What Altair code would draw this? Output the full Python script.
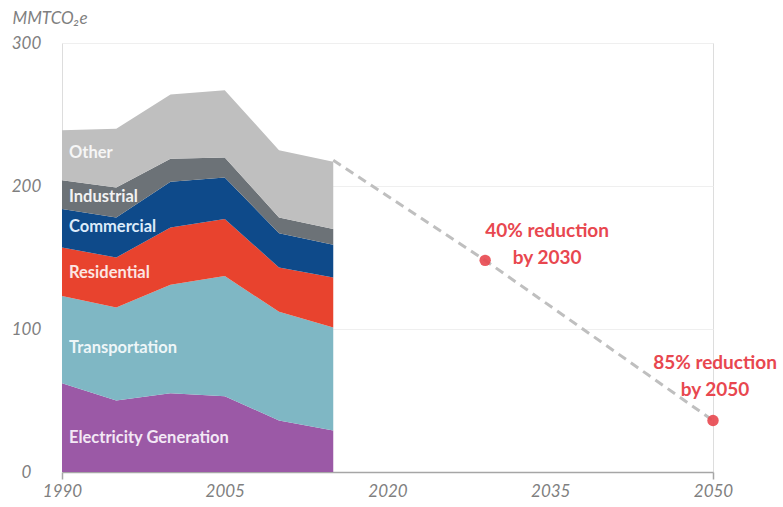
import altair as alt
import pandas as pd

# ---- data ----
years = [1990, 1995, 2000, 2005, 2010, 2015]
sectors = ["Electricity Generation", "Transportation", "Residential",
           "Commercial", "Industrial", "Other"]
electricity = [62, 50, 55, 53, 36, 29]
transportation = [61, 65, 76, 84, 76, 72]
residential = [34, 35, 40, 40, 31, 35]
commercial = [27, 28, 32, 29, 24, 23]
industrial = [20, 21, 16, 14, 11, 11]
other = [35, 41, 45, 47, 47, 47]
sector_colors = ["#9B59A6", "#7FB7C4", "#E8432E", "#0E4A8A", "#6C7277", "#BFBFBF"]

label_values = [24, 87, 139, 171, 192, 223]
label_colors = ["#F3E8F5", "#EEF6F8", "#FCE6E2", "#DCEBFA", "#F2F2F2", "#F6F6F6"]

path_years = [2015, 2029, 2050]
path_values = [218, 148, 36]
target_years = [2029, 2050]
target_values = [148, 36]
target_texts = ["40% reduction\nby 2030", "85% reduction\nby 2050"]

x_ticks = [1990, 2005, 2020, 2035, 2050]
y_ticks = [0, 100, 200, 300]

# ---- tables ----
series = [electricity, transportation, residential, commercial, industrial, other]
rows = []
for i, (name, vals) in enumerate(zip(sectors, series)):
    for y, v in zip(years, vals):
        rows.append({"year": y, "value": v, "sector": name, "order": i})
area_df = pd.DataFrame(rows)

labels_df = pd.DataFrame({"year": [1990] * 6, "value": label_values,
                          "sector": sectors, "tcolor": label_colors})
path_df = pd.DataFrame({"year": path_years, "value": path_values})
target_df = pd.DataFrame({"year": target_years, "value": target_values,
                          "text": target_texts, "idx": [0, 1]})

FONT = "Lato"
GRAY = "#7F7F7F"
RED = "#E8474F"

x_scale = alt.Scale(domain=[1990, 2050], nice=False, zero=False)
y_scale = alt.Scale(domain=[0, 300], nice=False)

x_axis = alt.Axis(values=x_ticks, format="d", title=None, grid=False,
                  domainColor="#A6A6A6", domainWidth=1.5,
                  tickColor=alt.expr("datum.value == 1990 || datum.value == 2050 ? '#A6A6A6' : 'transparent'"),
                  tickSize=7, tickWidth=1.5,
                  labelFont=FONT, labelFontStyle="italic", labelFontSize=17,
                  labelColor=GRAY, labelPadding=4, labelFlush=False)
y_axis = alt.Axis(values=y_ticks, title="MMTCO₂e", domain=False, ticks=False,
                  grid=True, gridColor="#EFEFEF", gridWidth=1.2,
                  labelFont=FONT, labelFontStyle="italic", labelFontSize=17,
                  labelColor=GRAY, labelAlign="center", labelPadding=36,
                  titleFont=FONT, titleFontStyle="italic", titleFontWeight="normal",
                  titleFontSize=17, titleColor=GRAY, titleAngle=0,
                  titleAlign="left", titleBaseline="middle", titleX=-50, titleY=-25)

areas = alt.Chart(area_df).mark_area(opacity=1, strokeWidth=0).encode(
    x=alt.X("year:Q", scale=x_scale, axis=x_axis),
    y=alt.Y("value:Q", stack="zero", scale=y_scale, axis=y_axis),
    color=alt.Color("sector:N", scale=alt.Scale(domain=sectors, range=sector_colors), legend=None),
    order=alt.Order("order:Q"),
)

labels = alt.Chart(labels_df).mark_text(
    align="left", baseline="middle", dx=7, font=FONT, fontWeight="bold", fontSize=16.5
).encode(
    x=alt.X("year:Q", scale=x_scale),
    y=alt.Y("value:Q", scale=y_scale),
    text="sector:N",
    color=alt.Color("tcolor:N", scale=None),
)

path = alt.Chart(path_df).mark_line(
    color="#BFBFBF", strokeWidth=3, strokeDash=[9, 6]
).encode(
    x=alt.X("year:Q", scale=x_scale),
    y=alt.Y("value:Q", scale=y_scale),
)

points = alt.Chart(target_df).mark_point(
    filled=True, color=RED, size=130, opacity=0.9
).encode(
    x=alt.X("year:Q", scale=x_scale),
    y=alt.Y("value:Q", scale=y_scale),
)

text_base = alt.Chart(target_df).encode(
    x=alt.X("year:Q", scale=x_scale),
    y=alt.Y("value:Q", scale=y_scale),
    text="text:N",
)
t1 = text_base.transform_filter("datum.idx == 0").mark_text(
    align="center", baseline="middle", lineBreak="\n", lineHeight=27,
    dx=62, dy=-29, font=FONT, fontWeight="bold", fontSize=19, color=RED)
t2 = text_base.transform_filter("datum.idx == 1").mark_text(
    align="center", baseline="middle", lineBreak="\n", lineHeight=27,
    dx=2, dy=-58, font=FONT, fontWeight="bold", fontSize=19, color=RED)

chart = alt.layer(areas, labels, path, points, t1, t2).properties(
    width=651, height=429,
    autosize=alt.AutoSizeParams(type="none"),
    padding={"left": 62, "top": 43, "right": 70, "bottom": 35},
).configure_view(
    stroke="transparent", strokeWidth=0
).configure_axisX(grid=False).configure_axisY(domain=False, ticks=False).configure(background="white")

chart.save("out.html", embed_options={"renderer": "svg", "actions": False})
